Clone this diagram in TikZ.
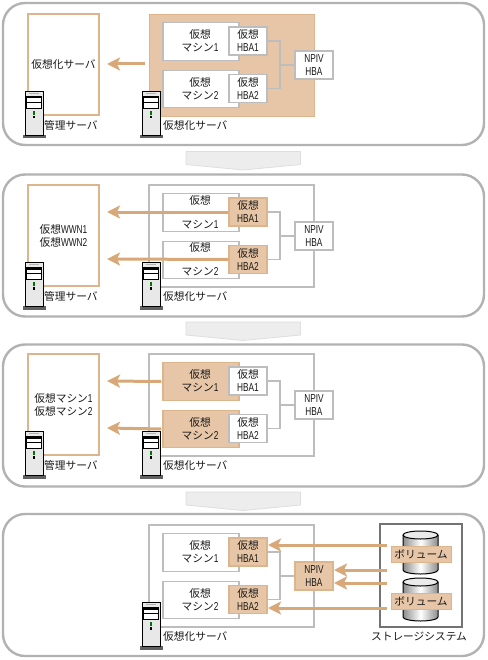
\documentclass[tikz,border=0pt]{standalone}
\usepackage{fontspec}
\setmainfont{Noto Sans CJK JP}
\newfontfamily\latn[FakeStretch=0.72]{Liberation Sans}
\usetikzlibrary{arrows.meta}
\definecolor{peach}{HTML}{E6C6A6}
\definecolor{peachline}{HTML}{DDB58D}
\definecolor{arrowc}{HTML}{D8A878}
\definecolor{boxgray}{HTML}{BDBDBD}
\definecolor{outergray}{HTML}{B2B2B2}
\newcommand{\hw}[1]{{\fontsize{11.5}{13}\selectfont\latn #1}}
\tikzset{
  every node/.style={font=\fontsize{10.7}{13}\selectfont,inner sep=0pt,align=center,text=black!90},
  panelbox/.style={draw=outergray,line width=2.4pt,rounded corners=22pt,fill=white},
  adminbox/.style={draw=peachline,line width=1.5pt,fill=white,minimum width=71pt,minimum height=101pt},
  srvbox/.style={draw=boxgray,line width=1.4pt,fill=white,minimum width=165pt,minimum height=102pt},
  srvon/.style={draw=peachline,line width=0.8pt,fill=peach},
  whitebox/.style={draw=boxgray,line width=1.2pt,fill=white},
  onbox/.style={draw=peachline,line width=1.2pt,fill=peach},
  vmsize/.style={minimum width=76pt,minimum height=37.5pt},
  hbasize/.style={minimum width=38pt,minimum height=28pt},
  link/.style={draw=boxgray,line width=1.2pt},
  flow/.style={draw=arrowc,line width=3pt,-{Stealth[length=13pt,width=13pt,inset=3pt]}},
  chev/.style={draw=black!13,fill=black!7,line width=0.8pt,line join=round},
  volbox/.style={draw=peachline,line width=1pt,fill=peach,minimum width=60pt,minimum height=16pt},
  storebox/.style={draw=black!55,line width=1.4pt,fill=white,minimum width=82pt,minimum height=103pt},
  pics/serv/.style={code={
    \fill[black!62] (-11.5,44) rectangle (11.5,47.5);
    \draw[black,line width=0.8pt,fill=black!9] (-9,0) rectangle (9,44);
    \fill[black!30] (-5,2.2) rectangle (5,3.2);
    \draw[black,line width=0.7pt,fill=white] (-7.5,5) rectangle (7.5,17);
    \fill[black] (-7.5,5) rectangle (7.5,7.5);
    \draw[black,line width=0.7pt] (-7.5,11.5) -- (7.5,11.5);
    \fill[green!45!black] (-1,20) rectangle (1,24);
    \fill[black] (-1,25) rectangle (1,27.5);
  }}
}
\newcommand{\cyl}[3]{% x-centre, top, bottom
  \path[left color=black!45,right color=black!45,middle color=white]
    (#1-17.5,#2+4) -- (#1-17.5,#3-4) arc[start angle=180,end angle=360,x radius=17.5,y radius=-4]
    -- (#1+17.5,#2+4) arc[start angle=0,end angle=180,x radius=17.5,y radius=-4] -- cycle;
  \draw[black,line width=1pt] (#1-17.5,#2+4) -- (#1-17.5,#3-4)
    arc[start angle=180,end angle=360,x radius=17.5,y radius=-4] -- (#1+17.5,#2+4);
  \draw[black,line width=1pt,fill=black!8] (#1,#2+4) ellipse[x radius=17.5,y radius=4];
}
% name, y offset, vm style, hba style, npiv style, server style, vm line gap
\newcommand{\panelcore}[7]{%
  \begin{scope}[shift={(0,#2)}]
    \node[srvbox,#6] (#1srv) at (231.5,65) {};
    \node[#3,vmsize] (#1vma) at (201,41.5) {};
    \node[#3,vmsize] (#1vmb) at (201,89) {};
    \node (#1vmat) at (200,41) {仮想\\[#7]マシン\hw{1}};
    \node (#1vmbt) at (200,88.5) {仮想\\[#7]マシン\hw{2}};
    \node[#4,hbasize] (#1hbaa) at (248,41) {仮想\\\hw{HBA1}};
    \node[#4,hbasize] (#1hbab) at (248,88.5) {仮想\\\hw{HBA2}};
    \node[#5,hbasize] (#1npiv) at (314,65) {\hw{NPIV}\\\hw{HBA}};
    \coordinate (#1j) at (280,65);
    \draw[link] (#1hbaa.east) -| (#1j) |- (#1hbab.east);
    \draw[link] (#1j) -- (#1npiv.west);
    \node[anchor=west] (#1srvt) at (163,125) {仮想化サーバ};
  \end{scope}
}
\newcommand{\adminpart}[3]{%
  \begin{scope}[shift={(0,#2)}]
    \node[adminbox] (#1adm) at (63.5,64.5) {#3};
    \node[anchor=west] (#1admt) at (44,125) {管理サーバ};
  \end{scope}
}
\newcommand{\servers}[2]{%
  \begin{scope}[shift={(0,#2)}]
    \pic at (151,91) {serv};
  \end{scope}
}
\newcommand{\adminsrv}[1]{%
  \begin{scope}[shift={(0,#1)}]
    \pic at (34,91) {serv};
  \end{scope}
}
\begin{document}
\begin{tikzpicture}[x=1pt,y=-1pt]
\useasboundingbox (0,0) rectangle (487,660);
\fill[white] (0,0) rectangle (487,660);
% outer panels
\node[panelbox,rounded corners=22pt,minimum width=481pt,minimum height=142pt] (pa) at (243.5,74) {};
\node[panelbox,rounded corners=22pt,minimum width=481pt,minimum height=142pt] (pb) at (243.5,245.5) {};
\node[panelbox,rounded corners=22pt,minimum width=481pt,minimum height=142pt] (pc) at (243.5,415.5) {};
\node[panelbox,rounded corners=22pt,minimum width=481pt,minimum height=142pt] (pd) at (243.5,585) {};
% step chevrons
\draw[chev] (186,151.5) -- (300.5,151.5) -- (300.5,164.5) -- (243,170) -- (186,164.5) -- cycle;
\draw[chev] (186,322) -- (300.5,322) -- (300.5,335) -- (243,340.5) -- (186,335) -- cycle;
\draw[chev] (186,492) -- (300.5,492) -- (300.5,505) -- (243,510.5) -- (186,505) -- cycle;

% panel 1
\adminpart{a}{0}{仮想化サーバ}
\panelcore{a}{0}{whitebox}{whitebox}{whitebox}{srvon}{0pt}
\coordinate (aarr) at (107,64);
\coordinate (astart) at (145,64);
\draw[flow] (astart) -- (aarr);
\adminsrv{0}\servers{a}{0}

% panel 2
\adminpart{b}{171}{仮想\hw{WWN1}\\仮想\hw{WWN2}}
\panelcore{b}{171}{whitebox}{onbox}{whitebox}{}{11pt}
\coordinate (barra) at (107,212);
\coordinate (barrb) at (107,259);
\draw[flow] (bhbaa.west) -- (barra);
\draw[flow] (bhbab.west) -- (barrb);
\adminsrv{171}\servers{b}{171}

% panel 3
\adminpart{c}{340}{仮想マシン\hw{1}\\仮想マシン\hw{2}}
\panelcore{c}{340}{onbox}{whitebox}{whitebox}{}{0pt}
\coordinate (carra) at (107,381);
\coordinate (carrb) at (107,428);
\draw[flow] (cvma.west) ++(-1,0) -- (carra);
\draw[flow] (cvmb.west) ++(-1,0) -- (carrb);
\adminsrv{340}\servers{c}{340}

% panel 4
\panelcore{d}{511}{whitebox}{onbox}{onbox}{}{0pt}
\servers{d}{511}
\node[storebox] (store) at (421,575.5) {};
\node (storet) at (419,637) {ストレージシステム};
\cyl{420.5}{531}{574}
\cyl{420.5}{578}{621}
\coordinate (sa) at (387,545);
\coordinate (sb) at (387,570);
\coordinate (sc) at (387,583);
\coordinate (sd) at (387,608);
\coordinate (da) at (268,545);
\coordinate (db) at (334,570);
\coordinate (dc) at (334,583);
\coordinate (dd) at (268,608);
\draw[flow] (sa) -- (da);
\draw[flow] (sb) -- (db);
\draw[flow] (sc) -- (dc);
\draw[flow] (sd) -- (dd);
\node[volbox] (vola) at (421,554) {ボリューム};
\node[volbox] (volb) at (421,601) {ボリューム};
\end{tikzpicture}
\end{document}
